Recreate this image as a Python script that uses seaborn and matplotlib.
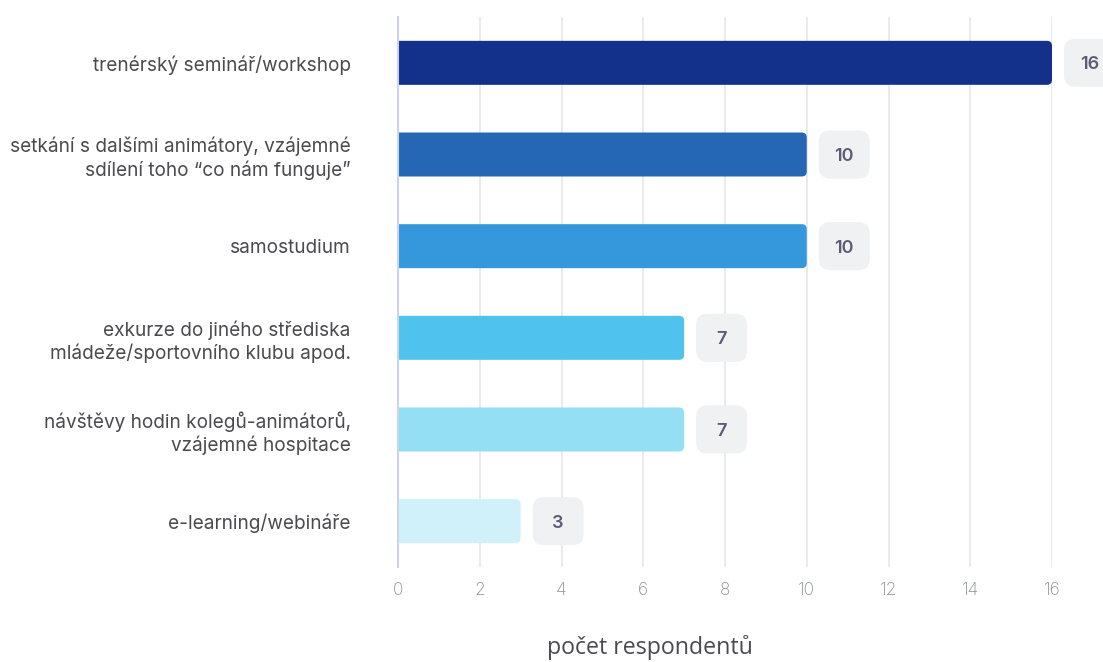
import matplotlib
matplotlib.use("Agg")
import matplotlib.pyplot as plt
import matplotlib.transforms as mtransforms
from matplotlib.patches import FancyBboxPatch
import seaborn as sns
import pandas as pd

categories = [
    "trenérský seminář/workshop",
    "setkání s dalšími animátory, vzájemné\nsdílení toho “co nám funguje”",
    "samostudium",
    "exkurze do jiného střediska\nmládeže/sportovního klubu apod.",
    "návštěvy hodin kolegů-animátorů,\nvzájemné hospitace",
    "e-learning/webináře",
]
values = [16, 10, 10, 7, 7, 3]
colors = ["#13318a", "#2566b5", "#3698dc", "#50c2ee", "#94dff4", "#d0f1fa"]
xticks = [0, 2, 4, 6, 8, 10, 12, 14, 16]
xlabel = "počet respondentů"

sns.set_theme(style="white")
plt.rcParams["font.family"] = ["Inter", "DejaVu Sans"]

W, H = 1103, 662
fig = plt.figure(figsize=(W / 100, H / 100), dpi=100)
ax = fig.add_axes([398 / W, 1 - 567 / H, (1052 - 398) / W, (567 - 17) / H])

df = pd.DataFrame({"cat": categories, "val": values})
sns.barplot(data=df, x="val", y="cat", hue="cat", palette=colors, legend=False,
            width=0.48, ax=ax, orient="h", saturation=1)

ax.set_xlim(0, 16)
ax.set_ylim(5.5, -0.5)

# rounded bars
px_x = (1052 - 398) / 16.0
px_y = (567 - 17) / 6.0
for p in list(ax.patches):
    x0, y0 = p.get_x(), p.get_y()
    w, h = p.get_width(), p.get_height()
    fc = p.get_facecolor()
    p.remove()
    r = 5 / px_x
    fb = FancyBboxPatch((x0 - 0.3, y0), w + 0.3, h,
                        boxstyle=f"round,pad=0,rounding_size={r}",
                        mutation_aspect=px_x / px_y,
                        facecolor=fc, edgecolor="none", zorder=2, clip_on=True)
    ax.add_patch(fb)

# value boxes
for i, v in enumerate(values):
    tr = mtransforms.Affine2D() + mtransforms.ScaledTranslation(v, i, ax.transData)
    box = FancyBboxPatch((12, -24), 51, 48,
                         boxstyle="round,pad=0,rounding_size=11",
                         transform=tr, facecolor="#f0f1f2", edgecolor="none",
                         clip_on=False, zorder=3)
    ax.add_patch(box)
    ax.annotate(str(v), xy=(v, i), xytext=(37.5, -2), textcoords="offset pixels",
                ha="center", va="center", fontsize=13, fontweight="semibold",
                color="#5b5a78", zorder=4, annotation_clip=False)

ax.set_xticks(xticks)
ax.set_xticklabels([str(t) for t in xticks], fontsize=12.5, color="#8a8d95",
                   fontweight="light")
ax.tick_params(axis="x", length=0, pad=11)
ax.tick_params(axis="y", length=0, pad=34)
for lab in ax.get_yticklabels():
    lab.set_fontsize(13.7)
    lab.set_color("#4a4a4f")
    lab.set_linespacing(1.25)
    lab.set_multialignment("right")

ax.grid(axis="x", color="#e5e6ea", linewidth=1.2, zorder=0)
ax.set_axisbelow(True)
for s in ["top", "right", "bottom"]:
    ax.spines[s].set_visible(False)
ax.spines["left"].set_color("#cdd3e8")
ax.spines["left"].set_linewidth(1.5)
ax.set_xlabel("")
ax.set_ylabel("")

fig.text(650 / W, 1 - 648 / H, xlabel, ha="center", va="center", fontsize=16.7,
         color="#4a4a4f", family=["Open Sans", "DejaVu Sans"])

fig.savefig("out.png", dpi=100, facecolor="white")
